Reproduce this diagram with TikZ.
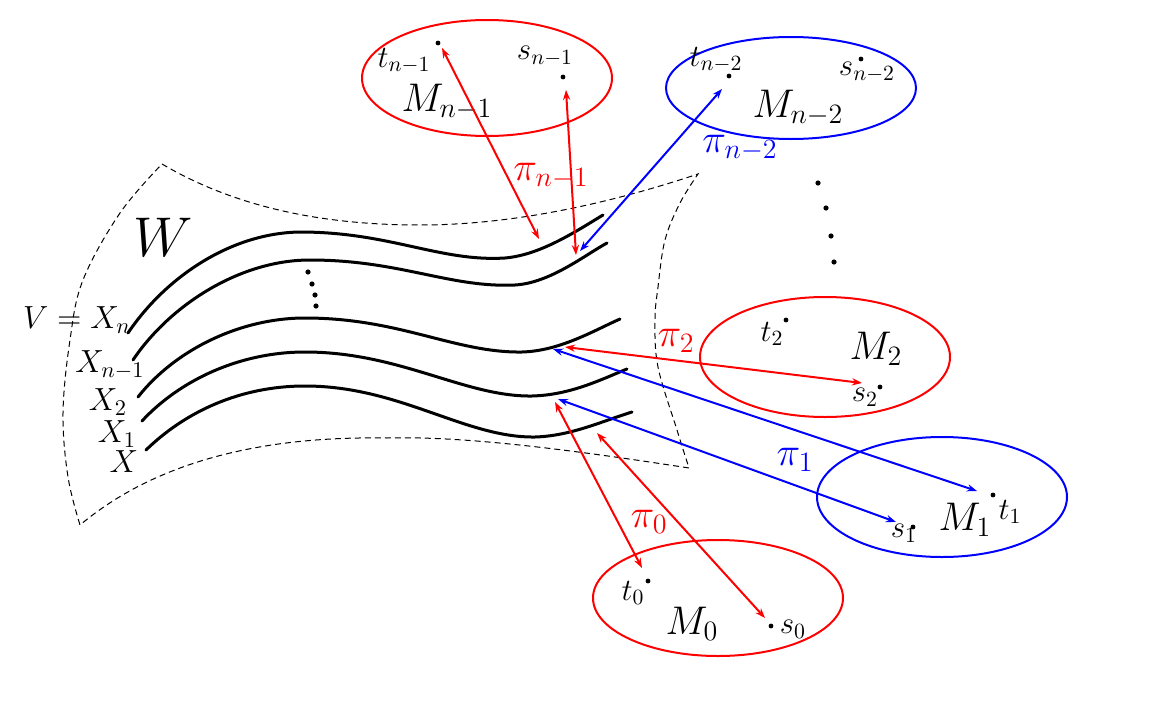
\documentclass[tikz,border=0pt]{standalone}
\usepackage{fix-cm}
\usetikzlibrary{arrows.meta}
\definecolor{pred}{RGB}{255,0,0}
\definecolor{pblue}{RGB}{0,0,255}
\tikzset{
  ell/.style={line width=1pt},
  redell/.style={ell, draw=pred},
  blueell/.style={ell, draw=pblue},
  biarrow/.style={line width=1pt, {Stealth[length=5pt,width=3.6pt]}-{Stealth[length=5pt,width=3.6pt]}},
  redarrow/.style={biarrow, draw=pred, fill=pred},
  bluearrow/.style={biarrow, draw=pblue, fill=pblue},
  fiber/.style={line width=1.5pt, line cap=round},
  region/.style={line width=0.5pt, dash pattern=on 3pt off 2pt},
  smalllab/.style={inner sep=0pt, font=\fontsize{15.5}{18}\selectfont},
  biglab/.style={inner sep=0pt, font=\fontsize{20}{24}\selectfont},
  xlab/.style={inner sep=0pt, font=\fontsize{16}{19}\selectfont},
  pt/.style={circle, fill=black, inner sep=0pt, minimum size=2.4pt}
}
\begin{document}
\begin{tikzpicture}[x=0.5pt,y=-0.5pt]
\useasboundingbox (0,0) rectangle (1162,712);

% region W
\draw[region] (162,164) .. controls (240,210) and (330,225) .. (420,225)
  .. controls (520,225) and (620,200) .. (698,174)
  -- plot[smooth, tension=0.6] coordinates {(698,174) (680,203) (665,240) (658,287) (655,320) (658,367) (677,430) (689,468)}
  .. controls (560,448) and (460,436) .. (387,438)
  .. controls (270,436) and (160,458) .. (80,525)
  -- plot[smooth, tension=0.6] coordinates {(80,525) (68,477) (63,413) (70,340) (83,280) (120,213) (162,164)};
\node[inner sep=0pt, font=\fontsize{28}{32}\selectfont] (W) at (163,237) {$W$};

% fibers
\draw[fiber] (128,333) .. controls (165,278) and (230,233) .. (300,232)
  .. controls (390,232) and (440,262) .. (505,258)
  .. controls (540,255) and (575,232) .. (603,215);
\draw[fiber] (133,360) .. controls (170,305) and (240,260) .. (310,260)
  .. controls (400,260) and (450,288) .. (515,285)
  .. controls (550,283) and (585,255) .. (607,243);
\draw[fiber] (138,397) .. controls (175,350) and (240,318) .. (305,318)
  .. controls (400,318) and (455,353) .. (522,352)
  .. controls (560,351) and (595,330) .. (620,319);
\draw[fiber] (142,421) .. controls (180,380) and (240,352) .. (305,352)
  .. controls (400,352) and (465,397) .. (532,396)
  .. controls (570,395) and (600,380) .. (627,369);
\draw[fiber] (146,450) .. controls (185,412) and (240,386) .. (305,386)
  .. controls (400,386) and (465,438) .. (535,437)
  .. controls (570,436) and (600,422) .. (632,412);

% vertical dots between fibers
\foreach \p in {(308,272),(312,284),(315,295),(316,306)} \fill \p circle (1.3pt);
% dots on the right
\foreach \p in {(818,183),(826,208),(831,236),(834,262)} \fill \p circle (1.3pt);

% fiber labels
\node[xlab] (Xn) at (77,320) {$V = X_n$};
\node[xlab] (Xn1) at (110,365) {$X_{n-1}$};
\node[xlab] (X2) at (108,402) {$X_2$};
\node[xlab] (X1) at (117,434) {$X_1$};
\node[xlab] (X0) at (124,462) {$X$};

% ellipses
\draw[redell] (487,78) ellipse [x radius=62.5pt, y radius=29pt];
\draw[blueell] (791,88) ellipse [x radius=62.5pt, y radius=25.5pt];
\draw[redell] (825,357) ellipse [x radius=62.5pt, y radius=30pt];
\draw[blueell] (942,497) ellipse [x radius=62.5pt, y radius=30pt];
\draw[redell] (718,598) ellipse [x radius=62.5pt, y radius=29pt];

% points in the ellipses
\node[pt] (tn1) at (438,43) {};
\node[pt] (sn1) at (563,77) {};
\node[pt] (tn2) at (729,76) {};
\node[pt] (sn2) at (861,59) {};
\node[pt] (t2) at (786,320) {};
\node[pt] (s2) at (880,387) {};
\node[pt] (t1) at (993,495) {};
\node[pt] (s1) at (913,527) {};
\node[pt] (t0) at (648,581) {};
\node[pt] (s0) at (771,626) {};

% labels in the ellipses
\node[smalllab] (ltn1) at (404,61) {$t_{n-1}$};
\node[smalllab] (lsn1) at (545,56) {$s_{n-1}$};
\node[biglab] (lMn1) at (447,102) {$M_{n-1}$};
\node[smalllab] (ltn2) at (716,60) {$t_{n-2}$};
\node[smalllab] (lsn2) at (867,72) {$s_{n-2}$};
\node[biglab] (lMn2) at (798,108) {$M_{n-2}$};
\node[smalllab] (lt2) at (772,334) {$t_2$};
\node[smalllab] (ls2) at (865,397) {$s_2$};
\node[biglab] (lM2) at (876,349) {$M_2$};
\node[smalllab] (lt1) at (1010,512) {$t_1$};
\node[smalllab] (ls1) at (904,533) {$s_1$};
\node[biglab] (lM1) at (965,520) {$M_1$};
\node[smalllab] (lt0) at (633,593) {$t_0$};
\node[smalllab] (ls0) at (793,629) {$s_0$};
\node[biglab] (lM0) at (692,624) {$M_0$};

% arrow end points
\coordinate (atn1) at (442,48);
\coordinate (asn1) at (566,90);
\coordinate (atn2) at (722,89);
\coordinate (as2) at (862,383);
\coordinate (at1) at (977,491);
\coordinate (as1) at (896,522);
\coordinate (at0) at (642,568);
\coordinate (as0) at (765,618);
\coordinate (c1) at (539,239);
\coordinate (c2) at (576,255);
\coordinate (c2b) at (580,251);
\coordinate (c3a) at (565,347);
\coordinate (c3b) at (553,349);
\coordinate (c4a) at (558,399);
\coordinate (c4b) at (555,402);
\coordinate (c5) at (597,433);

% arrows
\draw[redarrow] (atn1) -- (c1);
\draw[redarrow] (asn1) -- (c2);
\draw[bluearrow] (c2b) -- (atn2);
\draw[redarrow] (c3a) -- (as2);
\draw[bluearrow] (c3b) -- (at1);
\draw[bluearrow] (c4a) -- (as1);
\draw[redarrow] (c4b) -- (at0);
\draw[redarrow] (c5) -- (as0);

% projection labels
\node[biglab, text=pred] (pin1) at (551,176) {$\pi_{n-1}$};
\node[biglab, text=pblue] (pin2) at (740,148) {$\pi_{n-2}$};
\node[biglab, text=pred] (pi2) at (676,341) {$\pi_2$};
\node[biglab, text=pblue] (pi1) at (795,460) {$\pi_1$};
\node[biglab, text=pred] (pi0) at (649,522) {$\pi_0$};
\end{tikzpicture}
\end{document}
